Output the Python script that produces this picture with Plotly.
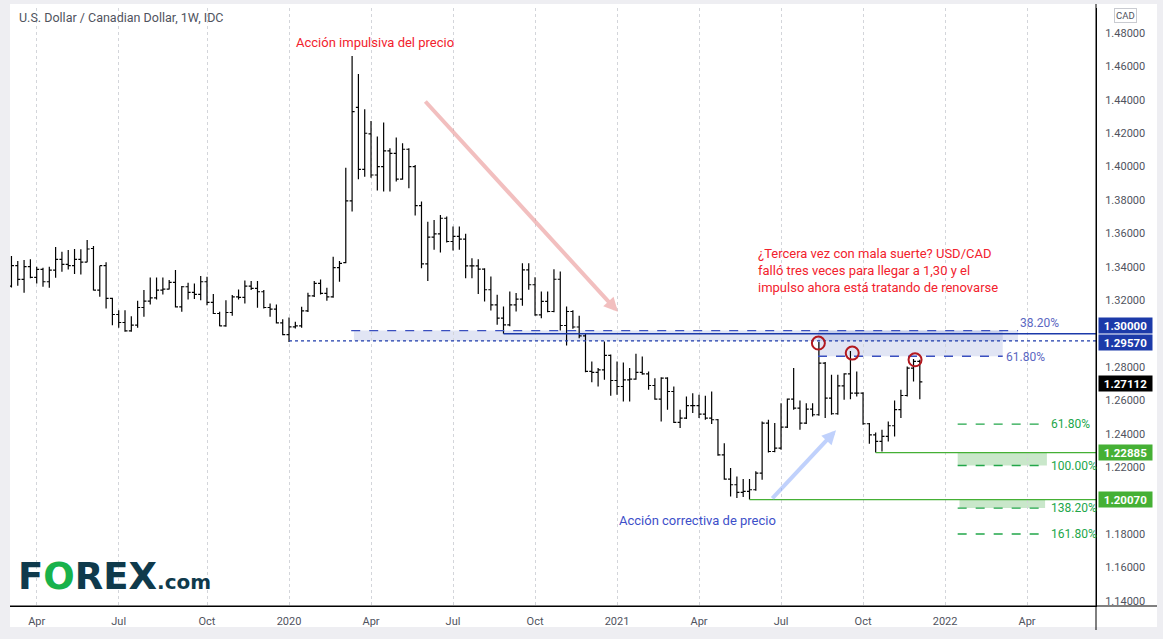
import pandas as pd
import plotly.graph_objects as go

# USD/CAD weekly bars (IDC), first bar = week of 2019-03-04
first_week = "2019-03-04"

opens = [
    1.3285, 1.3407, 1.3325, 1.3401, 1.3337, 1.3385, 1.3311, 1.3381, 1.3445, 1.3415,
    1.3407, 1.3445, 1.3429, 1.3510, 1.3261, 1.3407, 1.3211, 1.3115, 1.3067, 1.3017,
    1.3051, 1.3157, 1.3195, 1.3215, 1.3261, 1.3267, 1.3307, 1.3161, 1.3281, 1.3247,
    1.3235, 1.3311, 1.3187, 1.3121, 1.3047, 1.3127, 1.3221, 1.3217, 1.3285, 1.3271,
    1.3251, 1.3157, 1.3147, 1.3065, 1.2995, 1.3041, 1.3047, 1.3137, 1.3227, 1.3301,
    1.3241, 1.3221, 1.3395, 1.3426, 1.3795, 1.4355, 1.3984, 1.4196, 1.3950, 1.4000,
    1.4094, 1.4080, 1.3925, 1.4104, 1.4000, 1.3767, 1.3418, 1.3578, 1.3598, 1.3691,
    1.3552, 1.3582, 1.3566, 1.3406, 1.3406, 1.3386, 1.3263, 1.3173, 1.3093, 1.3053,
    1.3173, 1.3207, 1.3382, 1.3293, 1.3113, 1.3193, 1.3133, 1.3326, 1.3049, 1.3133,
    1.3040, 1.2987, 1.2774, 1.2768, 1.2784, 1.2870, 1.2720, 1.2684, 1.2724, 1.2728,
    1.2768, 1.2760, 1.2690, 1.2608, 1.2734, 1.2654, 1.2469, 1.2495, 1.2569, 1.2569,
    1.2519, 1.2495, 1.2485, 1.2275, 1.2130, 1.2096, 1.2050, 1.2056, 1.2066, 1.2166,
    1.2465, 1.2295, 1.2315, 1.2441, 1.2608, 1.2555, 1.2465, 1.2549, 1.2515, 1.2824,
    1.2614, 1.2521, 1.2688, 1.2760, 1.2644, 1.2644, 1.2461, 1.2395, 1.2355, 1.2385,
    1.2449, 1.2545, 1.2630, 1.2794, 1.2834,
]
highs = [
    1.3465, 1.3435, 1.3441, 1.3445, 1.3401, 1.3395, 1.3401, 1.3519, 1.3491, 1.3501,
    1.3507, 1.3505, 1.3561, 1.3525, 1.3407, 1.3427, 1.3215, 1.3141, 1.3141, 1.3105,
    1.3197, 1.3261, 1.3337, 1.3337, 1.3337, 1.3321, 1.3381, 1.3285, 1.3305, 1.3301,
    1.3345, 1.3341, 1.3237, 1.3131, 1.3201, 1.3231, 1.3265, 1.3319, 1.3315, 1.3315,
    1.3261, 1.3181, 1.3175, 1.3087, 1.3097, 1.3071, 1.3161, 1.3245, 1.3315, 1.3325,
    1.3275, 1.3461, 1.3435, 1.3994, 1.4662, 1.4555, 1.4343, 1.4273, 1.4180, 1.4264,
    1.4110, 1.4174, 1.4140, 1.4110, 1.4010, 1.3791, 1.3670, 1.3681, 1.3711, 1.3701,
    1.3641, 1.3641, 1.3598, 1.3452, 1.3446, 1.3392, 1.3342, 1.3233, 1.3163, 1.3253,
    1.3243, 1.3422, 1.3422, 1.3338, 1.3253, 1.3253, 1.3386, 1.3372, 1.3163, 1.3140,
    1.3107, 1.3000, 1.2834, 1.2794, 1.2954, 1.2875, 1.2834, 1.2828, 1.2794, 1.2880,
    1.2864, 1.2774, 1.2734, 1.2740, 1.2740, 1.2684, 1.2545, 1.2624, 1.2644, 1.2634,
    1.2628, 1.2654, 1.2490, 1.2345, 1.2196, 1.2146, 1.2130, 1.2130, 1.2176, 1.2475,
    1.2485, 1.2465, 1.2584, 1.2612, 1.2794, 1.2600, 1.2584, 1.2584, 1.2950, 1.2830,
    1.2754, 1.2754, 1.2764, 1.2896, 1.2774, 1.2650, 1.2465, 1.2409, 1.2425, 1.2475,
    1.2600, 1.2664, 1.2804, 1.2848, 1.2844,
]
lows = [
    1.3277, 1.3287, 1.3245, 1.3332, 1.3301, 1.3281, 1.3275, 1.3335, 1.3371, 1.3385,
    1.3357, 1.3355, 1.3427, 1.3259, 1.3221, 1.3151, 1.3051, 1.3035, 1.3011, 1.3011,
    1.3035, 1.3101, 1.3175, 1.3205, 1.3235, 1.3265, 1.3157, 1.3131, 1.3205, 1.3207,
    1.3201, 1.3171, 1.3118, 1.3045, 1.3041, 1.3107, 1.3205, 1.3181, 1.3261, 1.3155,
    1.3151, 1.3101, 1.3061, 1.2991, 1.2951, 1.3031, 1.3035, 1.3130, 1.3220, 1.3235,
    1.3197, 1.3215, 1.3311, 1.3422, 1.3731, 1.3925, 1.3940, 1.3934, 1.3857, 1.3851,
    1.3851, 1.3911, 1.3921, 1.3871, 1.3707, 1.3392, 1.3316, 1.3502, 1.3486, 1.3546,
    1.3498, 1.3502, 1.3332, 1.3332, 1.3237, 1.3193, 1.3139, 1.3053, 1.3000, 1.3045,
    1.3133, 1.3167, 1.3263, 1.3108, 1.3093, 1.3128, 1.3128, 1.3019, 1.2930, 1.3029,
    1.2973, 1.2770, 1.2710, 1.2684, 1.2724, 1.2628, 1.2634, 1.2594, 1.2594, 1.2724,
    1.2754, 1.2664, 1.2604, 1.2475, 1.2545, 1.2465, 1.2435, 1.2490, 1.2525, 1.2495,
    1.2485, 1.2460, 1.2269, 1.2126, 1.2026, 1.2016, 1.2022, 1.2007, 1.2060, 1.2126,
    1.2289, 1.2290, 1.2305, 1.2435, 1.2545, 1.2425, 1.2460, 1.2505, 1.2509, 1.2495,
    1.2515, 1.2515, 1.2604, 1.2608, 1.2624, 1.2455, 1.2341, 1.22885, 1.2295, 1.2355,
    1.2385, 1.2495, 1.2624, 1.2714, 1.2608,
]
closes = [
    1.3407, 1.3325, 1.3401, 1.3337, 1.3385, 1.3311, 1.3381, 1.3445, 1.3415, 1.3407,
    1.3445, 1.3429, 1.3507, 1.3261, 1.3407, 1.3211, 1.3115, 1.3067, 1.3017, 1.3051,
    1.3157, 1.3195, 1.3215, 1.3261, 1.3267, 1.3307, 1.3161, 1.3281, 1.3247, 1.3235,
    1.3311, 1.3187, 1.3121, 1.3047, 1.3127, 1.3221, 1.3217, 1.3285, 1.3271, 1.3251,
    1.3157, 1.3147, 1.3065, 1.2995, 1.3041, 1.3047, 1.3137, 1.3227, 1.3301, 1.3241,
    1.3221, 1.3395, 1.3421, 1.3795, 1.4329, 1.3984, 1.4200, 1.3950, 1.4000, 1.4094,
    1.4080, 1.3925, 1.4104, 1.4000, 1.3767, 1.3418, 1.3578, 1.3598, 1.3691, 1.3552,
    1.3582, 1.3566, 1.3406, 1.3406, 1.3386, 1.3263, 1.3173, 1.3093, 1.3053, 1.3173,
    1.3207, 1.3382, 1.3293, 1.3113, 1.3193, 1.3133, 1.3326, 1.3049, 1.3133, 1.3040,
    1.2987, 1.2774, 1.2768, 1.2784, 1.2870, 1.2720, 1.2684, 1.2724, 1.2728, 1.2768,
    1.2760, 1.2690, 1.2608, 1.2734, 1.2654, 1.2469, 1.2495, 1.2569, 1.2569, 1.2519,
    1.2495, 1.2485, 1.2275, 1.2130, 1.2096, 1.2050, 1.2056, 1.2066, 1.2166, 1.2465,
    1.2295, 1.2315, 1.2441, 1.2608, 1.2555, 1.2465, 1.2549, 1.2515, 1.2824, 1.2614,
    1.2521, 1.2688, 1.2760, 1.2644, 1.2644, 1.2461, 1.2395, 1.2355, 1.2385, 1.2449,
    1.2545, 1.2630, 1.2794, 1.2834, 1.27112,
]

# x axis labels (gridlines sit on the first weekly bar of each quarter)
tick_dates = ["2019-04-01", "2019-07-01", "2019-10-07", "2020-01-06", "2020-04-06",
              "2020-07-06", "2020-10-05", "2021-01-04", "2021-04-05", "2021-07-05",
              "2021-10-04", "2022-01-03", "2022-04-04"]
tick_text = ["Apr", "Jul", "Oct", "2020", "Apr", "Jul", "Oct", "2021",
             "Apr", "Jul", "Oct", "2022", "Apr"]
# 1.20 and 1.30 sit under the price tags, so they are not printed
price_ticks = [1.14, 1.16, 1.18, 1.22, 1.24, 1.26, 1.28,
               1.32, 1.34, 1.36, 1.38, 1.40, 1.42, 1.44, 1.46, 1.48]

# drawn levels
level_130 = 1.30000
level_jan20_low = 1.29570
level_oct21_low = 1.22885
level_jun21_low = 1.20070
last_price = closes[-1]
fib_upper = [1.3019, 1.2865]          # 38.2% / 61.8% retracement
fib_upper_labels = ["38.20%", "61.80%"]
fib_ext = [1.2459, 1.2211, 1.1956, 1.1801]   # projection levels
fib_ext_labels = ["61.80%", "100.00%", "138.20%", "161.80%"]
peaks = [("2021-08-15 10:00", 1.2944), ("2021-09-22", 1.2884), ("2021-11-30 17:00", 1.2844)]

dates = pd.date_range(first_week, periods=len(closes), freq="7D")

W, H = 1163, 639
ML, MR, MT, MB = 10, 67, 8, 33
X_RANGE = ["2019-03-02 09:00", "2022-06-19 12:00"]
Y_RANGE = [1.13701, 1.49496]
FONT = "Roboto"
BLUE = "#1c3aa9"
GREEN = "#45b035"
GREEN_TXT = "#22a64a"
RED_TXT = "#f2222d"


def paper(x, y):
    # pixel position -> paper coordinates
    return (x - ML) / (W - ML - MR), (H - MB - y) / (H - MT - MB)


fig = go.Figure()
fig.add_trace(go.Ohlc(
    x=dates, open=opens, high=highs, low=lows, close=closes,
    increasing_line_color="#000000", decreasing_line_color="#000000",
    line_width=1.2, tickwidth=0.4, showlegend=False, hoverinfo="skip",
))

shapes = []
px0, py0 = paper(10, 627)
px1, py1 = paper(1157, 4)
shapes.append(dict(type="rect", xref="paper", yref="paper", x0=px0, x1=px1, y0=py0, y1=py1,
                   fillcolor="white", line_width=0, layer="below"))

# blue zone around 1.30
fill_blue = "rgba(40,70,180,0.14)"
shapes.append(dict(type="rect", x0="2020-03-18", x1="2022-03-25", y0=level_jan20_low, y1=fib_upper[0],
                   fillcolor=fill_blue, line_width=0, layer="below"))
shapes.append(dict(type="rect", x0="2021-08-15", x1="2022-03-08", y0=fib_upper[1], y1=fib_upper[0],
                   fillcolor=fill_blue, line_width=0, layer="below"))
shapes.append(dict(type="line", x0="2020-03-15", x1="2022-03-25", y0=fib_upper[0], y1=fib_upper[0],
                   line=dict(color="#3a4fbf", width=1.3, dash="dash")))
shapes.append(dict(type="line", x0="2021-08-15", x1="2022-03-08", y0=fib_upper[1], y1=fib_upper[1],
                   line=dict(color="#3a4fbf", width=1.3, dash="dash")))
shapes.append(dict(type="line", x0="2020-08-31", x1=X_RANGE[1], y0=level_130, y1=level_130,
                   line=dict(color=BLUE, width=1.4)))
shapes.append(dict(type="line", x0="2020-01-06", x1=X_RANGE[1], y0=level_jan20_low, y1=level_jan20_low,
                   line=dict(color=BLUE, width=1.4, dash="dot")))

# green projection
fill_green = "rgba(76,175,80,0.3)"
shapes.append(dict(type="line", x0="2021-10-18", x1=X_RANGE[1], y0=level_oct21_low, y1=level_oct21_low,
                   line=dict(color=GREEN, width=1.3)))
shapes.append(dict(type="line", x0="2021-05-31", x1=X_RANGE[1], y0=level_jun21_low, y1=level_jun21_low,
                   line=dict(color=GREEN, width=1.3)))
shapes.append(dict(type="rect", x0="2022-01-17", x1="2022-04-26", y0=fib_ext[1], y1=level_oct21_low,
                   fillcolor=fill_green, line_width=0, layer="below"))
shapes.append(dict(type="rect", x0="2022-01-19", x1="2022-04-24", y0=fib_ext[2], y1=level_jun21_low,
                   fillcolor=fill_green, line_width=0, layer="below"))
for lv in fib_ext:
    shapes.append(dict(type="line", x0="2022-01-17", x1="2022-04-26", y0=lv, y1=lv,
                       line=dict(color=GREEN_TXT, width=1.3, dash="dash")))

# red circles on the three failed highs
for d, p in peaks:
    shapes.append(dict(type="circle", xsizemode="pixel", ysizemode="pixel", xanchor=d, yanchor=p,
                       x0=-6.5, x1=6.5, y0=-6.5, y1=6.5, line=dict(color="#b3191f", width=2)))

# axis lines running into the frame
ax_a, ax_b = paper(1096, 630)
shapes.append(dict(type="line", xref="paper", yref="paper", x0=1, x1=1, y0=ax_b, y1=py1,
                   line=dict(color="#000000", width=1)))
shapes.append(dict(type="line", xref="paper", yref="paper", x0=0, x1=px1, y0=0, y1=0,
                   line=dict(color="#000000", width=1)))

ann = []


def text_at(x, y, text, color, size, xanchor="left", family=FONT, **kw):
    px, py = paper(x, y)
    ann.append(dict(xref="paper", yref="paper", x=px, y=py, text=text, showarrow=False,
                    xanchor=xanchor, yanchor="middle", align="left",
                    font=dict(family=family, size=size, color=color), **kw))


text_at(17, 18, "U.S. Dollar / Canadian Dollar, 1W, IDC", "#50535e", 12.5)
text_at(294, 43, "Acción impulsiva del precio", RED_TXT, 13)
text_at(756, 270, "¿Tercera vez con mala suerte? USD/CAD<br>falló tres veces para llegar a 1,30 y el"
        "<br>impulso ahora está tratando de renovarse", RED_TXT, 13)
text_at(617, 520, "Acción correctiva de precio", "#3d4fc9", 13)
text_at(1018, 323, fib_upper_labels[0], "#5b67c2", 12)
text_at(1004, 357, fib_upper_labels[1], "#5b67c2", 12)
for lv, lab in zip(fib_ext, fib_ext_labels):
    ann.append(dict(xref="x", yref="y", x="2022-04-28", y=lv, text=lab, showarrow=False,
                    xanchor="left", yanchor="middle", font=dict(family=FONT, size=12, color=GREEN_TXT)))

# logo
text_at(16, 576, "<b>F<span style='color:#19b24b'>O</span>REX</b><b><span style='font-size:20px'>.com</span></b>",
        "#0f3a4c", 37, family="DejaVu Sans")

# CAD currency chip
text_at(1125, 16, "CAD", "#50535e", 9.5, xanchor="center",
        bordercolor="#c9cbd1", borderwidth=1, borderpad=1, bgcolor="white")


def price_tag(p, text, bg, yshift=0):
    ann.append(dict(xref="paper", yref="y", x=1, y=p, xanchor="left", yanchor="middle",
                    xshift=2, yshift=yshift, text="<b>%s</b>" % text, showarrow=False,
                    font=dict(family=FONT, size=11.5, color="white"), bgcolor=bg,
                    width=53, height=15, borderpad=0))


price_tag(level_130, "%.5f" % level_130, BLUE, 8)
price_tag(level_jan20_low, "%.5f" % level_jan20_low, BLUE, -1.5)
price_tag(last_price, "%.5f" % last_price, "#000000", -2)
price_tag(level_oct21_low, "%.5f" % level_oct21_low, GREEN)
price_tag(level_jun21_low, "%.5f" % level_jun21_low, GREEN)

# arrows
ann.append(dict(xref="x", yref="y", axref="x", ayref="y", x="2021-01-04 22:00", y=1.3131,
                ax="2020-06-03 19:00", ay=1.4399, text="", showarrow=True, arrowhead=2,
                arrowsize=0.7, arrowwidth=4, arrowcolor="rgba(232,140,140,0.55)"))
ann.append(dict(xref="x", yref="y", axref="x", ayref="y", x="2021-09-04", y=1.2422,
                ax="2021-06-23 19:00", ay=1.2006, text="", showarrow=True, arrowhead=2,
                arrowsize=0.7, arrowwidth=4, arrowcolor="rgba(130,165,250,0.5)"))

fig.update_layout(
    width=W, height=H,
    margin=dict(l=ML, r=MR, t=MT, b=MB),
    paper_bgcolor="#eeeef2", plot_bgcolor="white",
    shapes=shapes, annotations=ann,
    hovermode=False, dragmode=False,
    font=dict(family=FONT, size=11, color="#50535e"),
)
fig.update_xaxes(
    type="date", range=X_RANGE, rangeslider_visible=False,
    tickvals=tick_dates, ticktext=tick_text, ticks="", ticklabelstandoff=5,
    showgrid=True, gridcolor="#d3d5da", griddash="dot", gridwidth=1,
    showline=True, linecolor="#000000", linewidth=1, zeroline=False,
    tickfont=dict(family=FONT, size=11, color="#50535e"),
)
fig.update_yaxes(
    side="right", range=Y_RANGE, tickvals=price_ticks,
    ticktext=["%.5f" % v for v in price_ticks], ticks="", ticklabelstandoff=6,
    showgrid=False, showline=True, linecolor="#000000", linewidth=1, zeroline=False,
    tickfont=dict(family=FONT, size=11, color="#50535e"),
)

# the page body has a default 8px margin; drop it so the figure fills the window
fig.write_html("out.html", config={"displayModeBar": False},
               post_script="document.body.style.margin='0';")
